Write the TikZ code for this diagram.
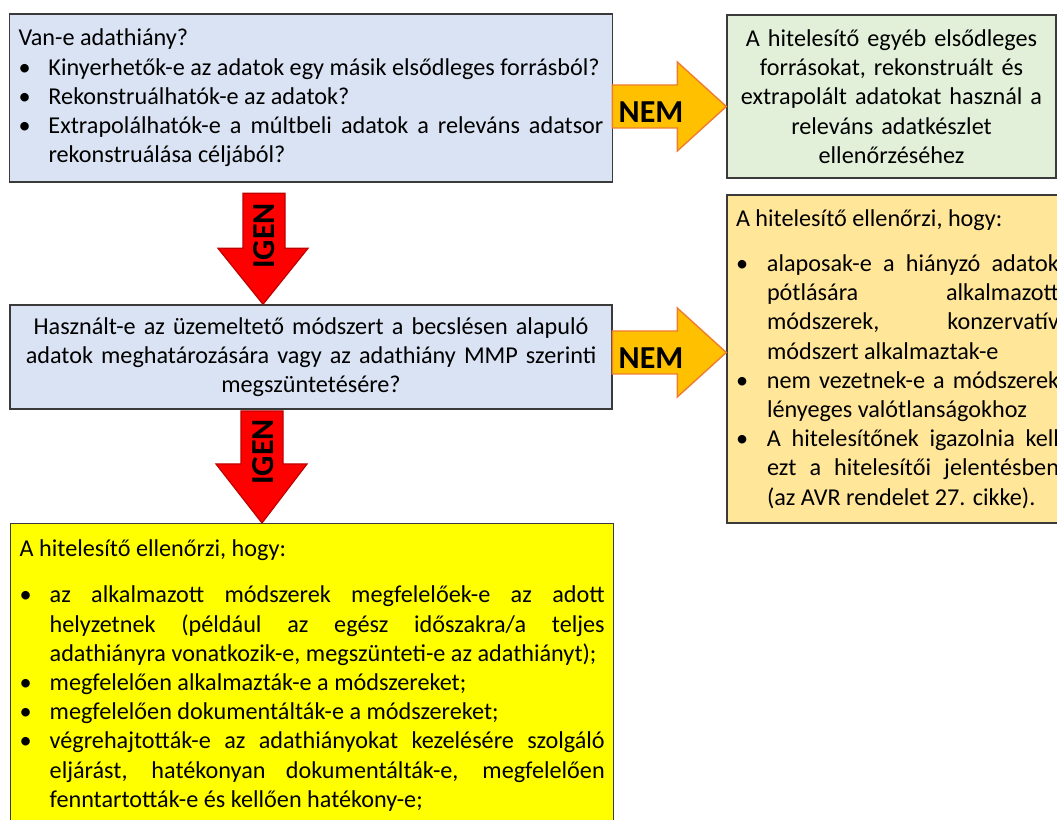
\documentclass[tikz,border=0pt]{standalone}
\usepackage{fontspec}
\setmainfont{Carlito}
\definecolor{bluebox}{HTML}{DAE3F3}
\definecolor{greenbox}{HTML}{E2F0D9}
\definecolor{orangebox}{HTML}{FFE699}
\definecolor{yellowbox}{HTML}{FFFF00}
\definecolor{boxline}{HTML}{3A3A3A}
\definecolor{nemfill}{HTML}{FFC000}
\definecolor{nemline}{HTML}{ED7D31}
\definecolor{igenfill}{HTML}{FF0000}
\definecolor{igenline}{HTML}{C00000}
\newlength\itind
\newlength\bulx
\newcommand\bodyfont{\fontsize{24.2pt}{29.2pt}\selectfont\hyphenpenalty=10000 \exhyphenpenalty=10000 \tolerance=10000 \hbadness=10000 \hfuzz=20pt}
\newcommand\myitem{\par\noindent\hangindent=\itind\hangafter=1\makebox[\itind][l]{\hspace*{\bulx}\textbullet}\ignorespaces}
\newcommand\firststrut{\rule{0pt}{20pt}}
\tikzset{
  box/.style={draw=boxline, line width=1.4pt, inner xsep=9pt, inner ysep=0pt, font=\bodyfont},
  nemarrow/.style={fill=nemfill, draw=nemline, line width=1.4pt, line join=miter},
  igenarrow/.style={fill=igenfill, draw=igenline, line width=1.2pt, line join=miter},
  armlabel/.style={font=\fontsize{32pt}{36pt}\selectfont\bfseries, inner sep=0pt}
}
\begin{document}
\begin{tikzpicture}[x=1pt,y=1pt]
\useasboundingbox (0,0) rectangle (1057,819);
\fill[white] (0,0) rectangle (1057,819);
\clip (0,0) rectangle (1057,819);

% question 1
\node[box, fill=bluebox, minimum width=602pt, minimum height=168pt, text width=585pt, align=justify]
  (q1) at (311,721) {\setlength\itind{30pt}\setlength\bulx{0pt}%
  Van-e adathiány?
  \myitem \mbox{Kinyerhetők-e az adatok egy másik elsődleges forrásból?}
  \myitem Rekonstruálhatók-e az adatok?
  \myitem Extrapolálhatók-e a múltbeli adatok a releváns adatsor\linebreak rekonstruálása céljából?\par};

% answer 1 (green)
\node[box, fill=greenbox, minimum width=329pt, minimum height=163pt, text width=311pt, align=center]
  (a1) at (891.5,722.5) {A hitelesítő egyéb elsődleges\\ forrásokat, rekonstruált és\\ extrapolált adatokat használ a\\ releváns adatkészlet\\ ellenőrzéséhez};

% question 2
\node[box, fill=bluebox, minimum width=602pt, minimum height=104pt, text width=584pt, align=center]
  (q2) at (311,462) {Használt-e az üzemeltető módszert a becslésen alapuló\\ adatok meghatározására vagy az adathiány MMP szerinti\\ megszüntetésére?};

% answer 2 (orange)
\node[box, fill=orangebox, minimum width=341pt, minimum height=328pt, text width=323pt, align=justify]
  (a2) at (897.5,460) {\setlength\itind{31pt}\setlength\bulx{0pt}%
  A hitelesítő ellenőrzi, hogy:\par\vspace{16pt}%
  \myitem alaposak-e a hiányzó adatok\linebreak pótlására alkalmazott\linebreak módszerek, konzervatív\linebreak módszert alkalmaztak-e
  \myitem nem vezetnek-e a módszerek\linebreak lényeges valótlanságokhoz
  \myitem A hitelesítőnek igazolnia kell\linebreak ezt a hitelesítői jelentésben\linebreak (az AVR rendelet 27. cikke).\par};

% answer 3 (yellow)
\node[box, fill=yellowbox, anchor=north west, inner ysep=13pt, text width=585pt, align=justify]
  (a3) at (10,296) {\setlength\itind{30pt}\setlength\bulx{0pt}%
  \firststrut A hitelesítő ellenőrzi, hogy:\par\vspace{17pt}%
  \myitem az alkalmazott módszerek megfelelőek-e az adott\linebreak helyzetnek (például az egész időszakra/a teljes\linebreak \mbox{adathiányra vonatkozik-e, megszünteti-e az adathiányt);}
  \myitem megfelelően alkalmazták-e a módszereket;
  \myitem megfelelően dokumentálták-e a módszereket;
  \myitem végrehajtották-e az adathiányokat kezelésére szolgáló\linebreak eljárást, hatékonyan dokumentálták-e, megfelelően\linebreak fenntartották-e és kellően hatékony-e;\par\vspace*{40pt}\mbox{}\par};

% NEM arrow 1
\coordinate (n1tip) at (a1.west |- 0,712.5);
\draw[nemarrow] (n1tip) -- ++(-49,44.5) -- ++(0,-23) -- ++(-65,0) -- ++(0,-43) -- ++(65,0) -- ++(0,-23) -- cycle;
\node[armlabel] (nem1) at (651,707) {NEM};

% NEM arrow 2
\coordinate (n2tip) at (a2.west |- 0,466.5);
\draw[nemarrow] (n2tip) -- ++(-49,44.5) -- ++(0,-23) -- ++(-65,0) -- ++(0,-43) -- ++(65,0) -- ++(0,-23) -- cycle;
\node[armlabel] (nem2) at (651,461) {NEM};

% IGEN arrow 1
\coordinate (i1tip) at (263,0 |- q2.north);
\draw[igenarrow] (i1tip) -- ++(45,56) -- ++(-23,0) -- ++(0,55) -- ++(-42,0) -- ++(0,-55) -- ++(-25,0) -- cycle;
\node[armlabel, rotate=90] (igen1) at (264,583) {IGEN};

% IGEN arrow 2
\coordinate (i2tip) at (262,0 |- a3.north);
\draw[igenarrow] (i2tip) -- ++(45,59) -- ++(-24,0) -- ++(0,53) -- ++(-42,0) -- ++(0,-53) -- ++(-25,0) -- cycle;
\node[armlabel, rotate=90] (igen2) at (263,367) {IGEN};
\end{tikzpicture}
\end{document}
